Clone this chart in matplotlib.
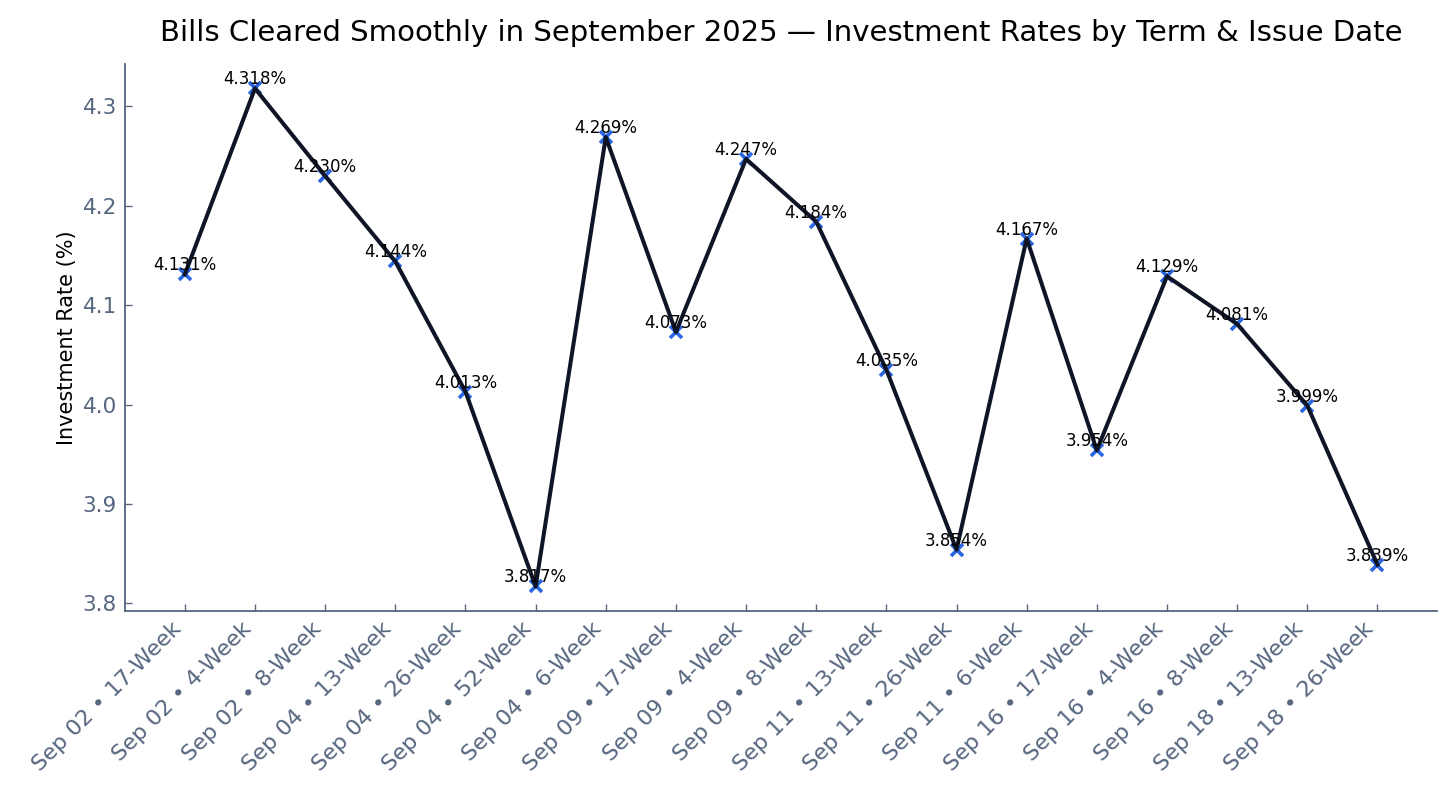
import matplotlib
matplotlib.use("Agg")
import matplotlib.pyplot as plt
import numpy as np

# data
labels = ["Sep 02 • 17-Week", "Sep 02 • 4-Week", "Sep 02 • 8-Week", "Sep 04 • 13-Week",
          "Sep 04 • 26-Week", "Sep 04 • 52-Week", "Sep 04 • 6-Week", "Sep 09 • 17-Week",
          "Sep 09 • 4-Week", "Sep 09 • 8-Week", "Sep 11 • 13-Week", "Sep 11 • 26-Week",
          "Sep 11 • 6-Week", "Sep 16 • 17-Week", "Sep 16 • 4-Week", "Sep 16 • 8-Week",
          "Sep 18 • 13-Week", "Sep 18 • 26-Week"]
rates = [4.131, 4.318, 4.230, 4.144, 4.013, 3.817, 4.269, 4.073, 4.247,
         4.184, 4.035, 3.854, 4.167, 3.954, 4.129, 4.081, 3.999, 3.839]

slate = "#56667f"

fig, ax = plt.subplots(figsize=(14.56, 7.94), dpi=100)
plt.subplots_adjust(left=0.086, right=0.987, top=0.92, bottom=0.23)

x = np.arange(len(labels))
ax.plot(x, rates, linestyle="none", marker="x", markersize=9, markeredgewidth=2.6,
        color="#2a67e0", zorder=2)
ax.plot(x, rates, color="#0f1526", linewidth=2.9, zorder=3)

for xi, v in zip(x, rates):
    ax.text(xi, v, f"{v:.3f}%", ha="center", va="bottom", fontsize=12, color="black", zorder=4)

ax.set_xticks(x)
ax.set_xticklabels(labels, rotation=45, ha="right", fontsize=16)
ax.set_yticks([3.8, 3.9, 4.0, 4.1, 4.2, 4.3])
ax.set_yticklabels(["3.8", "3.9", "4.0", "4.1", "4.2", "4.3"], fontsize=15.5)
ax.set_ylabel("Investment Rate (%)", fontsize=15)
ax.set_title("Bills Cleared Smoothly in September 2025 — Investment Rates by Term & Issue Date",
             fontsize=21, pad=16)

for side in ["top", "right"]:
    ax.spines[side].set_visible(False)
for side in ["left", "bottom"]:
    ax.spines[side].set_color(slate)
    ax.spines[side].set_linewidth(1.3)
ax.tick_params(colors=slate, direction="in", length=5, width=1)
ax.tick_params(axis="y", pad=6)
ax.tick_params(axis="x", pad=5)

plt.savefig("out.png", dpi=100)
